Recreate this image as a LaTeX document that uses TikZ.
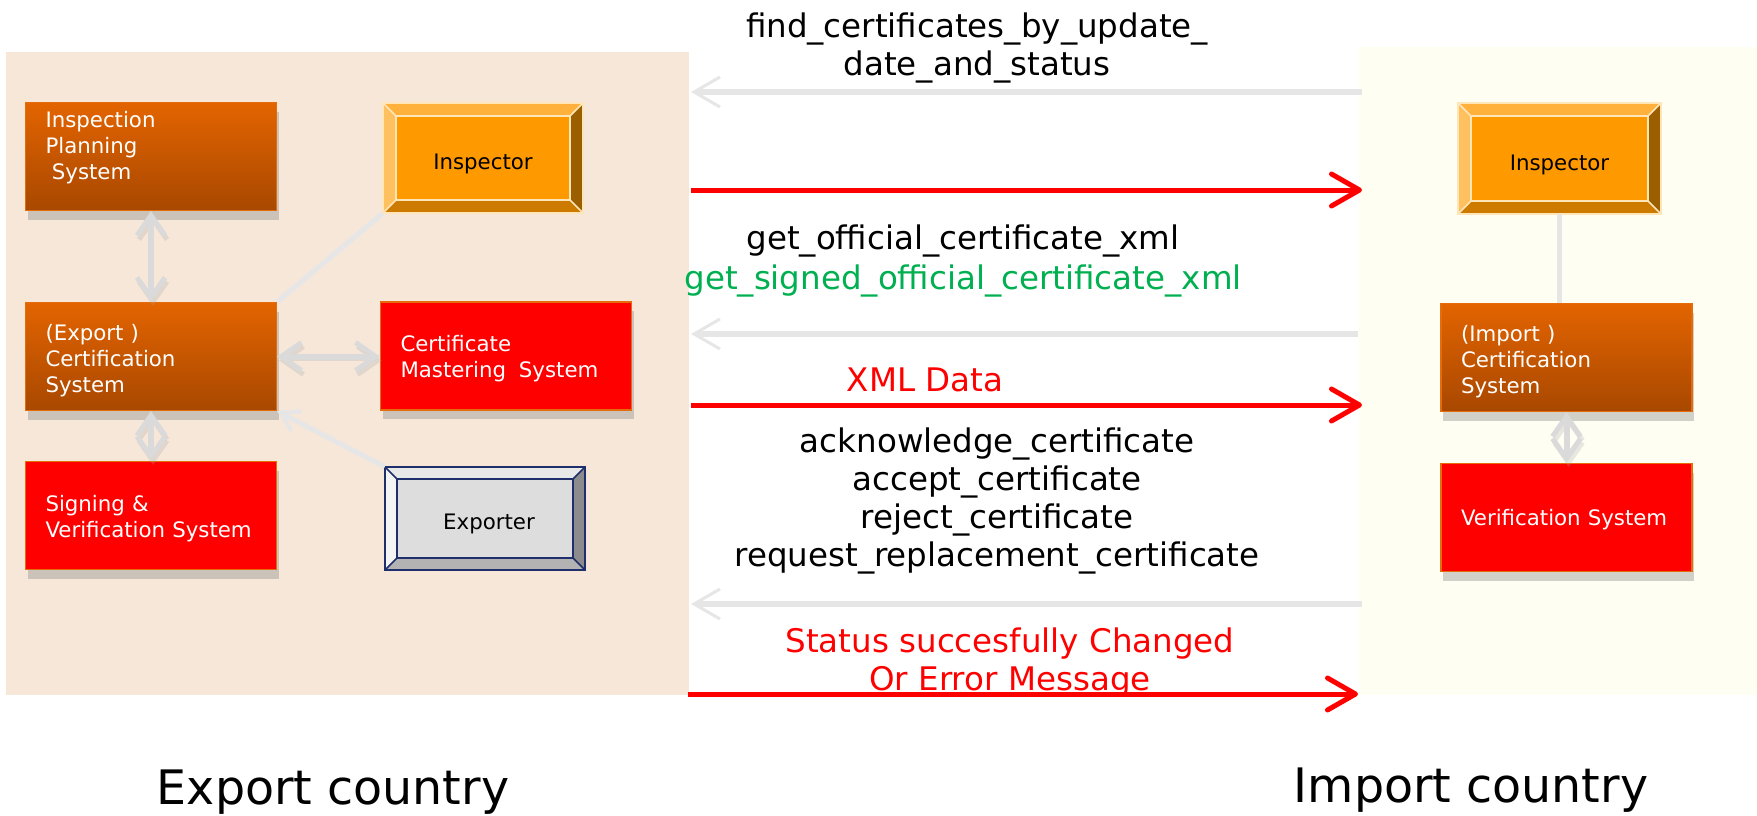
\documentclass[tikz,border=0pt]{standalone}
\usepackage{fontspec}
\setmainfont{DejaVu Sans}
\usepackage{tikz}
\usetikzlibrary{arrows.meta, positioning, calc, shadows}
\definecolor{PeachBg}{HTML}{F6E7D9}
\definecolor{CreamBg}{HTML}{FFFEF3}
\definecolor{OrangeTop}{HTML}{E36400}
\definecolor{OrangeBot}{HTML}{A84800}
\definecolor{BoxEdge}{HTML}{E46C0A}
\definecolor{SignalRed}{HTML}{FF0000}
\definecolor{CallGreen}{HTML}{00B050}
\definecolor{FlowGrey}{HTML}{E6E6E6}
\definecolor{InspFace}{HTML}{FF9900}
\definecolor{InspTop}{HTML}{FFB13B}
\definecolor{InspLeft}{HTML}{FFC060}
\definecolor{InspRight}{HTML}{9C5F00}
\definecolor{InspBottom}{HTML}{CC7A00}
\definecolor{InspRim}{HTML}{FFE6B8}
\definecolor{ExpFace}{HTML}{DDDDDD}
\definecolor{ExpTop}{HTML}{E8E8E8}
\definecolor{ExpLeft}{HTML}{F4F4F4}
\definecolor{ExpRight}{HTML}{8C8C8C}
\definecolor{ExpBottom}{HTML}{B3B3B3}
\definecolor{ExpRim}{HTML}{1F2F6B}

% bevelled frame round a rectangular node: node, depth, top, left, right, bottom, rim
\newcommand{\bevelsides}[7]{%
  \fill[#3] (#1.north west) -- (#1.north east) -- ([shift={(-#2,#2)}]#1.north east) -- ([shift={(#2,#2)}]#1.north west) -- cycle;
  \fill[#4] (#1.north west) -- ([shift={(#2,#2)}]#1.north west) -- ([shift={(#2,-#2)}]#1.south west) -- (#1.south west) -- cycle;
  \fill[#5] (#1.north east) -- ([shift={(-#2,#2)}]#1.north east) -- ([shift={(-#2,-#2)}]#1.south east) -- (#1.south east) -- cycle;
  \fill[#6] (#1.south west) -- ([shift={(#2,-#2)}]#1.south west) -- ([shift={(-#2,-#2)}]#1.south east) -- (#1.south east) -- cycle;
  \draw[#7] (#1.north west) rectangle (#1.south east);
  \draw[#7] ([shift={(#2,#2)}]#1.north west) rectangle ([shift={(-#2,-#2)}]#1.south east);
  \draw[#7] (#1.north west) -- ++(#2,#2) (#1.north east) -- ++(-#2,#2)
            (#1.south west) -- ++(#2,-#2) (#1.south east) -- ++(-#2,-#2);
}

\tikzset{
  sysbox/.style={draw=BoxEdge, line width=1.2pt, minimum width=251pt, minimum height=108pt,
    text width=211pt, inner xsep=20pt, align=left, text=white,
    font=\fontsize{21.3}{26}\selectfont,
    drop shadow={shadow xshift=2pt, shadow yshift=-9pt, fill=black!45, opacity=0.4}},
  orangebox/.style={sysbox, top color=OrangeTop, bottom color=OrangeBot},
  redbox/.style={sysbox, fill=SignalRed},
  actorbox/.style={minimum width=#1, inner sep=0pt, text=black, font=\fontsize{21.3}{26}\selectfont},
  msgtext/.style={align=center, font=\fontsize{32.5}{38}\selectfont},
  countrytext/.style={anchor=base, font=\fontsize{47.5}{57}\selectfont},
  msgback/.style={draw=FlowGrey, line width=6pt, -{Straight Barb[length=26pt, width=30pt, line width=3pt]}},
  msgout/.style={draw=SignalRed, line width=5pt, -{Straight Barb[length=28pt, width=32pt, line width=5pt, round]}},
  link/.style={draw=FlowGrey, line width=5pt},
  dblarrow/.style={draw=FlowGrey!95!black, line width=6pt,
    {Straight Barb[length=20pt, width=28pt, line width=5pt]}-{Straight Barb[length=20pt, width=28pt, line width=5pt]},
    preaction={draw=black!35, opacity=0.25, transform canvas={shift={(2pt,-4pt)}}}},
}

\begin{document}
\begin{tikzpicture}[x=1pt, y=-1pt]
    \useasboundingbox (0,0) rectangle (1757,816);

    % Country panels
    \fill[PeachBg] (6,52) rectangle (689,695);
    \fill[CreamBg] (1359,47) rectangle (1757,695);

    % Export side systems
    \node[orangebox, text depth=75pt] (plan) at (151,156.5) {Inspection\\ Planning\\ \hspace*{0.3em}System};
    \node[orangebox, text depth=49pt] (expcert) at (151,356.5) {(Export )\\ Certification\\ System};
    \node[redbox, text depth=25pt] (signing) at (151,515.5) {Signing \&\\ Verification System};
    \node[redbox, text depth=25pt] (master) at (506,356) {Certificate\\ Mastering\hspace{0.6em}System};

    % Export side actors
    \node[actorbox=200pt, minimum height=110pt, fill=InspFace] (inspL) at (483,158) {};
    \bevelsides{inspL}{13}{InspTop}{InspLeft}{InspRight}{InspBottom}{InspRim, line width=1.5pt}
    \node[actorbox=10pt] (inspLtxt) at ([yshift=-6pt]inspL) {Inspector};

    \node[actorbox=200pt, minimum height=103pt, fill=ExpFace] (exporter) at (485,518.5) {};
    \bevelsides{exporter}{12}{ExpTop}{ExpLeft}{ExpRight}{ExpBottom}{ExpRim, line width=1.6pt}
    \node[actorbox=10pt] (exportertxt) at ([shift={(4,5)}]exporter) {Exporter};

    % Import side
    \node[actorbox=203pt, minimum height=111pt, fill=InspFace] (inspR) at (1559.5,158.5) {};
    \bevelsides{inspR}{13}{InspTop}{InspLeft}{InspRight}{InspBottom}{InspRim, line width=1.5pt}
    \node[actorbox=10pt] (inspRtxt) at ([yshift=-6pt]inspR) {Inspector};

    \node[orangebox, text depth=49pt] (impcert) at (1566.5,357.5) {(Import )\\ Certification\\ System};
    \node[redbox, text depth=0pt] (verif) at (1566.5,517.5) {Verification System};

    % Links between systems
    \draw[dblarrow] (plan.south) -- (plan.south |- expcert.north);
    \draw[dblarrow] (expcert.south) -- (signing.north);
    \draw[dblarrow] (expcert.east) -- (expcert.east -| master.west);
    \draw[link] (inspL.south west) -- (expcert.north east);
    \draw[link, -{Straight Barb[length=18pt, width=22pt, line width=4pt]}] (exporter.north west) -- (expcert.south east);
    \draw[link] (inspR.south) -- (inspR.south |- impcert.north);
    \draw[dblarrow] (impcert.south) -- (verif.north);

    % Message end points
    \coordinate (q1imp) at (1362,92);   \coordinate (q1exp) at (691,92);
    \coordinate (r1exp) at (691,190);   \coordinate (r1imp) at (1362,190);
    \coordinate (q2imp) at (1358,334);  \coordinate (q2exp) at (691,334);
    \coordinate (r2exp) at (691,405);   \coordinate (r2imp) at (1362,405);
    \coordinate (q3imp) at (1362,604);  \coordinate (q3exp) at (691,604);
    \coordinate (r3exp) at (688,694);   \coordinate (r3imp) at (1358,694);

    % Requests and replies
    \draw[msgback] (q1imp) -- (q1exp);
    \draw[msgout] (r1exp) -- (r1imp);
    \draw[msgback] (q2imp) -- (q2exp);
    \draw[msgout] (r2exp) -- (r2imp);
    \draw[msgback] (q3imp) -- (q3exp);
    \draw[msgout] (r3exp) -- (r3imp);

    \node[msgtext] (findcall) at (977,48) {find\_certificates\_by\_update\_\\ date\_and\_status};
    \node[msgtext] (getcall) at (963,241) {get\_official\_certificate\_xml};
    \node[msgtext, text=CallGreen] (signedcall) at (963,281) {get\_signed\_official\_certificate\_xml};
    \node[msgtext, text=SignalRed] (xmlreply) at (925,380) {XML Data};
    \node[msgtext] (statuscalls) at (997,501) {acknowledge\_certificate\\ accept\_certificate\\ reject\_certificate\\ request\_replacement\_certificate};
    \node[msgtext, text=SignalRed] (statusreply) at (1010,663) {Status succesfully Changed\\ Or Error Message};

    % Country captions
    \node[countrytext] (exportlbl) at (333,804) {Export country};
    \node[countrytext] (importlbl) at (1471,802) {Import country};
\end{tikzpicture}
\end{document}
